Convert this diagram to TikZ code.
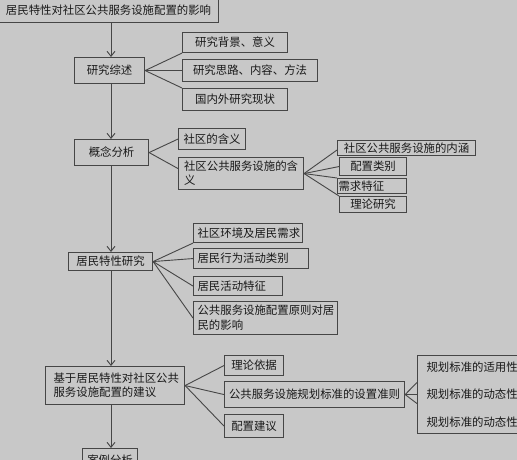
\documentclass[tikz,border=0pt]{standalone}
\usepackage{fontspec}
\newfontfamily\cjk{Noto Sans CJK SC}
\usepackage{tikz}
\usetikzlibrary{arrows.meta, positioning}
\definecolor{pagegray}{RGB}{200,200,200}
\definecolor{boxline}{RGB}{70,70,70}
\definecolor{txtdark}{RGB}{25,25,25}
\tikzset{
  box/.style={rectangle, draw=boxline, fill=pagegray, line width=1.1pt,
    anchor=north west, inner sep=0pt, text=txtdark,
    font=\cjk\fontsize{11.4}{14}\selectfont},
  lbox/.style={box, align=left, inner xsep=4pt},
  arrow/.style={-{Straight Barb[length=5pt,width=8pt]}, line width=0.9pt, color=boxline},
  line/.style={line width=0.9pt, color=boxline}
}
\begin{document}
\begin{tikzpicture}[x=1pt, y=-1pt]
\useasboundingbox (0,0) rectangle (517,460);
\fill[pagegray] (0,0) rectangle (517,460);
\clip (0,0) rectangle (517,460);
\coordinate (trunk) at (111,0);

\node[box, minimum width=220pt, minimum height=24pt] (title) at (-2,-2) {居民特性对社区公共服务设施配置的影响};

% research review
\node[box, minimum width=70pt, minimum height=26pt] (review) at (74,57) {研究综述};
\node[box, minimum width=105pt, minimum height=20pt] (bg) at (182,32) {研究背景、意义};
\node[box, minimum width=135pt, minimum height=22pt] (method) at (182,59) {研究思路、内容、方法};
\node[box, minimum width=105pt, minimum height=22pt] (status) at (182,88) {国内外研究现状};

% concepts
\node[box, minimum width=74pt, minimum height=26pt] (concept) at (74,139) {概念分析};
\node[box, minimum width=67pt, minimum height=21pt] (cmean) at (178,128) {社区的含义};
\node[lbox, inner xsep=5.5pt, text width=114pt, minimum height=32pt] (fmean) at (178,157) {社区公共服务设施的含\\义};
\node[box, minimum width=138pt, minimum height=15pt] (connot) at (337,140) {社区公共服务设施的内涵};
\node[box, minimum width=67pt, minimum height=18pt] (ptype) at (339,157) {配置类别};
\node[lbox, inner xsep=1pt, text width=67pt, minimum height=15pt] (demand) at (337,178) {需求特征};
\node[box, minimum width=67pt, minimum height=16pt] (theory) at (339,196) {理论研究};

% residents
\node[box, minimum width=84pt, minimum height=18pt] (resident) at (68,252) {居民特性研究};
\node[lbox, text width=101pt, minimum height=19pt] (env) at (193,223) {社区环境及居民需求};
\node[lbox, text width=107pt, minimum height=20pt] (behav) at (193,248) {居民行为活动类别};
\node[lbox, text width=81pt, minimum height=19pt] (activ) at (193,276) {居民活动特征};
\node[lbox, text width=136pt, minimum height=33pt, font=\cjk\fontsize{11.4}{15}\selectfont] (rule) at (193,301) {公共服务设施配置原则对居\\民的影响};

% advice
\node[lbox, inner xsep=8pt, text width=123pt, minimum height=38pt] (advice) at (45,366) {基于居民特性对社区公共\\服务设施配置的建议};
\node[box, minimum width=59pt, minimum height=20pt] (basis) at (224,355) {理论依据};
\node[box, minimum width=180pt, minimum height=26pt] (norm) at (224,381) {公共服务设施规划标准的设置准则};
\node[box, minimum width=59pt, minimum height=23pt] (suggest) at (224,414) {配置建议};
\node[lbox, inner xsep=9pt, text width=110pt, minimum height=78pt, font=\cjk\fontsize{11.4}{27.5}\selectfont] (std) at (417,355) {规划标准的适用性\\规划标准的动态性\\规划标准的动态性};

\node[box, minimum width=55pt, minimum height=24pt] (case) at (82,448) {案例分析};

\draw[arrow] (title.south -| trunk) -- (review.north -| trunk);
\draw[arrow] (review.south -| trunk) -- (concept.north -| trunk);
\draw[arrow] (concept.south -| trunk) -- (resident.north -| trunk);
\draw[arrow] (resident.south -| trunk) -- (advice.north -| trunk);
\draw[arrow] (advice.south -| trunk) -- (case.north -| trunk);

\draw[line] (review.east) -- (bg.south west);
\draw[line] (review.east) -- (method.west);
\draw[line] (review.east) -- (status.north west);

\draw[line] (concept.east) -- (cmean.west);
\draw[line] (concept.east) -- ([yshift=5pt]fmean.west);
\draw[line] (fmean.east) -- ([yshift=-2pt]connot.west);
\draw[line] (fmean.east) -- (ptype.west);
\draw[line] (fmean.east) -- (demand.north west);
\draw[line] (fmean.east) -- (theory.north west);

\draw[line] (resident.east) -- (env.south west);
\draw[line] (resident.east) -- (behav.west);
\draw[line] (resident.east) -- (activ.west);
\draw[line] (resident.east) -- (rule.west);

\draw[line] (advice.east) -- (basis.west);
\draw[line] (advice.east) -- (norm.west);
\draw[line] (advice.east) -- (suggest.west);
\draw[line] (norm.east) -- ([yshift=12pt]std.west);
\draw[line] (norm.east) -- (std.west);
\draw[line] (norm.east) -- ([yshift=-9pt]std.west);
\end{tikzpicture}
\end{document}
